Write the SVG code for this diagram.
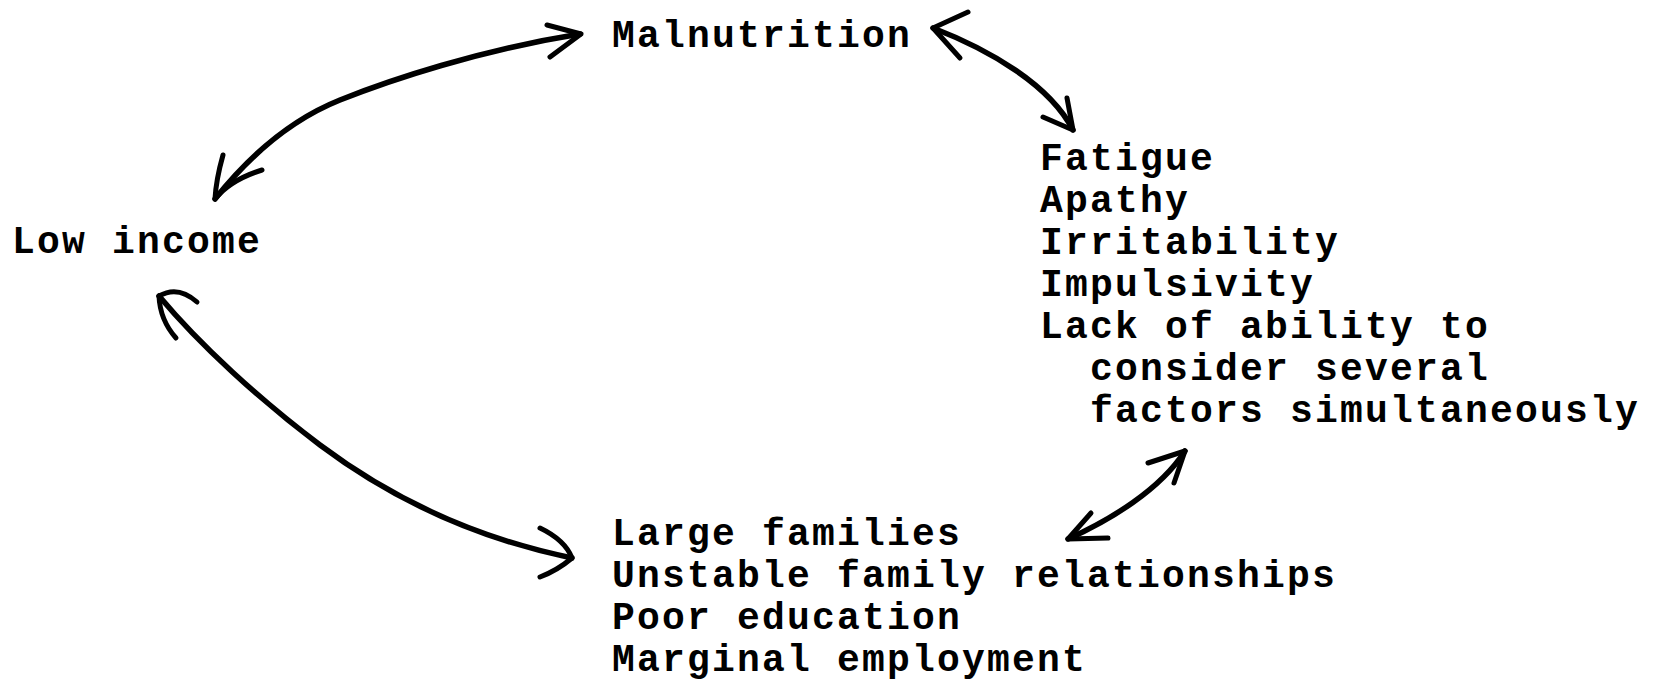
<svg xmlns="http://www.w3.org/2000/svg" width="1654" height="681" viewBox="0 0 1654 681">
<style>
.t{font-family:"Liberation Mono","Courier New",monospace;font-size:38px;font-weight:bold;letter-spacing:2.2px;fill:#000}
.c{fill:none;stroke:#000;stroke-width:5.5;stroke-linecap:round;stroke-linejoin:round}
.h{fill:none;stroke:#000;stroke-width:5;stroke-linecap:round;stroke-linejoin:round}
</style>
<rect width="1654" height="681" fill="#fff"/>
<g id="malnutrition"><text class="t" x="612" y="47">Malnutrition</text></g>
<g id="low-income"><text class="t" x="12" y="253">Low income</text></g>
<g id="symptoms">
<text class="t" x="1040" y="170">Fatigue</text>
<text class="t" x="1040" y="212">Apathy</text>
<text class="t" x="1040" y="254">Irritability</text>
<text class="t" x="1040" y="296">Impulsivity</text>
<text class="t" x="1040" y="338">Lack of ability to</text>
<text class="t" x="1090" y="380">consider several</text>
<text class="t" x="1090" y="422">factors simultaneously</text>
</g>
<g id="social">
<text class="t" x="612" y="545">Large families</text>
<text class="t" x="612" y="587">Unstable family relationships</text>
<text class="t" x="612" y="629">Poor education</text>
<text class="t" x="612" y="671">Marginal employment</text>
</g>
<g id="connectors">
<path class="c" d="M215,199 C250,155 290,120 340,100 S480,50 580,34"/>
<path class="h" d="M223,155 Q216,180 215,199 Q230,180 262,170"/>
<path class="h" d="M547,25 L581,34 L550,57"/>
<path class="c" d="M159,296 C200,345 260,400 320,445 S460,535 572,558"/>
<path class="h" d="M197,302 Q178,285 159,296 Q160,320 176,338"/>
<path class="h" d="M540,528 Q565,540 572,558 Q558,570 540,577"/>
<path class="c" d="M933,28 C990,50 1050,85 1073,130"/>
<path class="h" d="M968,12 L933,28 L960,58"/>
<path class="h" d="M1067,98 L1073,130 L1043,117"/>
<path class="c" d="M1185,451 C1160,490 1110,520 1068,539"/>
<path class="h" d="M1148,463 L1185,451 L1174,483"/>
<path class="h" d="M1091,513 L1068,539 L1108,538"/>
</g>
</svg>
